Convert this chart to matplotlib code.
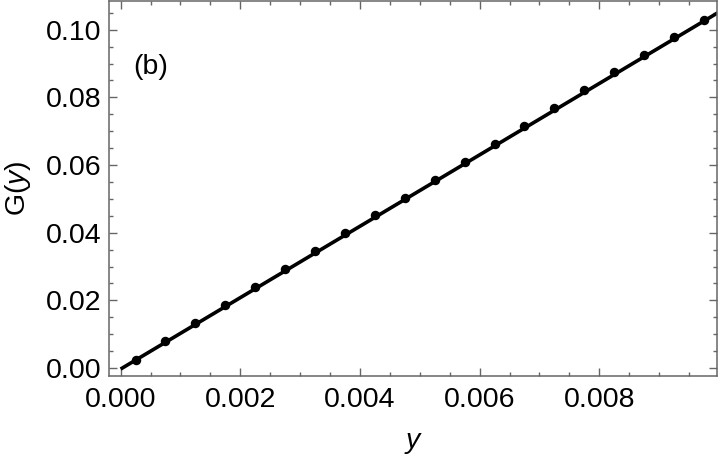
import numpy as np
import matplotlib
matplotlib.use('Agg')
import matplotlib.pyplot as plt
from matplotlib.ticker import MultipleLocator, FormatStrFormatter

plt.rcParams['font.family'] = ['Liberation Sans', 'DejaVu Sans']
plt.rcParams['mathtext.fontset'] = 'custom'
plt.rcParams['mathtext.rm'] = 'Liberation Sans'
plt.rcParams['mathtext.it'] = 'Liberation Sans:italic'

# sampled points
y_pts = [0.00025, 0.00075, 0.00125, 0.00175, 0.00225, 0.00275, 0.00325,
         0.00375, 0.00425, 0.00475, 0.00525, 0.00575, 0.00625, 0.00675,
         0.00725, 0.00775, 0.00825, 0.00875, 0.00925, 0.00975]
G_pts = [0.0025, 0.0080, 0.0133, 0.0186, 0.0239, 0.0292, 0.0345,
         0.0398, 0.0451, 0.0503, 0.0556, 0.0609, 0.0662, 0.0715,
         0.0768, 0.0821, 0.0874, 0.0926, 0.0979, 0.1028]

# fitted line
y_line = [0.0, 0.0100]
G_line = [-0.0003, 0.1052]

gray = '#666666'
fs = 20.5

fig = plt.figure(figsize=(7.2, 4.68), dpi=100)
ax = fig.add_axes([0.152, 0.1966, 0.844, 0.8014])

ax.plot(y_line, G_line, color='black', lw=2.6, solid_capstyle='butt')
ax.plot(y_pts, G_pts, 'o', color='black', ms=5.8)

ax.set_xlim(-0.000187, 0.00997)
ax.set_ylim(-0.00235, 0.1085)

ax.xaxis.set_major_locator(MultipleLocator(0.002))
ax.xaxis.set_minor_locator(MultipleLocator(0.0005))
ax.yaxis.set_major_locator(MultipleLocator(0.02))
ax.yaxis.set_minor_locator(MultipleLocator(0.005))
ax.xaxis.set_major_formatter(FormatStrFormatter('%.3f'))
ax.yaxis.set_major_formatter(FormatStrFormatter('%.2f'))

for s in ax.spines.values():
    s.set_color(gray)
    s.set_linewidth(1.1)

ax.tick_params(which='both', direction='in', top=True, right=True,
               color=gray, width=1.0, labelsize=fs, labelcolor='black')
ax.tick_params(which='major', length=5.5)
ax.tick_params(which='minor', length=3)
ax.tick_params(axis='x', which='major', pad=8)
ax.tick_params(axis='y', which='major', pad=6)

ax.set_xlabel('$y$', fontsize=fs, labelpad=12)
ax.set_ylabel('G($y$)', fontsize=fs, labelpad=9)

ax.text(0.039, 0.824, '(b)', transform=ax.transAxes, fontsize=fs, va='center')

fig.savefig('out.png', dpi=100)
